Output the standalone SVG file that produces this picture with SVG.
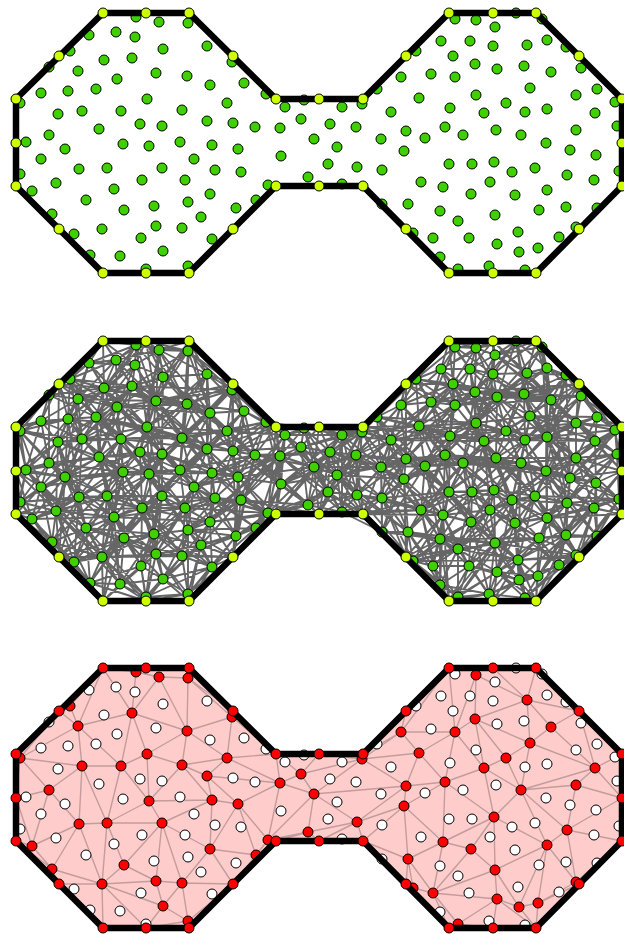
<svg xmlns="http://www.w3.org/2000/svg" xmlns:xlink="http://www.w3.org/1999/xlink" width="624" height="934" viewBox="0 0 624 934">
<style>
.out{fill:none;stroke:#000;stroke-width:6.5;stroke-linejoin:round}
.mesh{fill:none;stroke:#666;stroke-width:1.9;stroke-linejoin:round;stroke-linecap:round}
.tri{fill:none;stroke:#c39c9c;stroke-width:1.4}
</style>
<defs>
<polygon id="sh" points="103,13 189,13 276,99 363,99 449,13 536,13 622,99 622,186 536,273 449,273 363,186 276,186 189,273 103,273 16,186 16,99"/>
<g id="pr">
<circle cx="136" cy="17" r="5"/><circle cx="159" cy="22" r="5"/><circle cx="188" cy="23" r="5"/><circle cx="70" cy="51" r="5"/><circle cx="132" cy="58" r="5"/><circle cx="232" cy="62" r="5"/><circle cx="78" cy="71" r="5"/><circle cx="187" cy="76" r="5"/><circle cx="147" cy="99" r="5"/><circle cx="20" cy="103" r="5"/><circle cx="227" cy="103" r="5"/><circle cx="82" cy="111" r="5"/><circle cx="121" cy="111" r="5"/><circle cx="182" cy="110" r="5"/><circle cx="301" cy="119" r="5"/><circle cx="207" cy="121" r="5"/><circle cx="280" cy="128" r="5"/><circle cx="49" cy="135" r="5"/><circle cx="314" cy="139" r="5"/><circle cx="149" cy="146" r="5"/><circle cx="212" cy="145" r="5"/><circle cx="238" cy="149" r="5"/><circle cx="79" cy="169" r="5"/><circle cx="107" cy="168" r="5"/><circle cx="162" cy="168" r="5"/><circle cx="308" cy="177" r="5"/><circle cx="268" cy="185" r="5"/><circle cx="32" cy="191" r="5"/><circle cx="210" cy="194" r="5"/><circle cx="124" cy="210" r="5"/><circle cx="256" cy="200" r="5"/><circle cx="52" cy="214" r="5"/><circle cx="102" cy="229" r="5"/><circle cx="156" cy="226" r="5"/><circle cx="182" cy="228" r="5"/><circle cx="163" cy="251" r="5"/><circle cx="188" cy="266" r="5"/>
<circle cx="476" cy="20" r="5"/><circle cx="527" cy="45" r="5"/><circle cx="475" cy="64" r="5"/><circle cx="551" cy="72" r="5"/><circle cx="401" cy="77" r="5"/><circle cx="455" cy="77" r="5"/><circle cx="530" cy="88" r="5"/><circle cx="419" cy="98" r="5"/><circle cx="362" cy="104" r="5"/><circle cx="484" cy="113" r="5"/><circle cx="506" cy="103" r="5"/><circle cx="595" cy="113" r="5"/><circle cx="406" cy="131" r="5"/><circle cx="445" cy="127" r="5"/><circle cx="521" cy="135" r="5"/><circle cx="576" cy="130" r="5"/><circle cx="404" cy="151" r="5"/><circle cx="357" cy="167" r="5"/><circle cx="494" cy="162" r="5"/><circle cx="567" cy="175" r="5"/><circle cx="443" cy="187" r="5"/><circle cx="471" cy="194" r="5"/><circle cx="547" cy="190" r="5"/><circle cx="408" cy="204" r="5"/><circle cx="495" cy="215" r="5"/><circle cx="413" cy="233" r="5"/><circle cx="433" cy="238" r="5"/><circle cx="497" cy="244" r="5"/><circle cx="576" cy="227" r="5"/><circle cx="519" cy="252" r="5"/><circle cx="538" cy="248" r="5"/><circle cx="458" cy="269" r="5"/>
</g>
<g id="ph">
<circle cx="89" cy="35" r="5"/><circle cx="116" cy="32" r="5"/><circle cx="135" cy="37" r="5"/><circle cx="163" cy="49" r="5"/><circle cx="207" cy="46" r="5"/><circle cx="49" cy="67" r="5"/><circle cx="104" cy="60" r="5"/><circle cx="156" cy="73" r="5"/><circle cx="117" cy="79" r="5"/><circle cx="210" cy="85" r="5"/><circle cx="244" cy="83" r="5"/><circle cx="41" cy="93" r="5"/><circle cx="68" cy="91" r="5"/><circle cx="96" cy="89" r="5"/><circle cx="266" cy="94" r="5"/><circle cx="285" cy="107" r="5"/><circle cx="304" cy="100" r="5"/><circle cx="58" cy="114" r="5"/><circle cx="140" cy="124" r="5"/><circle cx="162" cy="126" r="5"/><circle cx="233" cy="123" r="5"/><circle cx="255" cy="127" r="5"/><circle cx="99" cy="129" r="5"/><circle cx="26" cy="142" r="5"/><circle cx="65" cy="149" r="5"/><circle cx="123" cy="144" r="5"/><circle cx="180" cy="142" r="5"/><circle cx="281" cy="156" r="5"/><circle cx="41" cy="159" r="5"/><circle cx="194" cy="159" r="5"/><circle cx="215" cy="170" r="5"/><circle cx="241" cy="172" r="5"/><circle cx="20" cy="174" r="5"/><circle cx="142" cy="180" r="5"/><circle cx="185" cy="180" r="5"/><circle cx="56" cy="183" r="5"/><circle cx="114" cy="189" r="5"/><circle cx="86" cy="200" r="5"/><circle cx="188" cy="202" r="5"/><circle cx="154" cy="206" r="5"/><circle cx="236" cy="208" r="5"/><circle cx="201" cy="217" r="5"/><circle cx="74" cy="234" r="5"/><circle cx="141" cy="238" r="5"/><circle cx="212" cy="239" r="5"/><circle cx="90" cy="255" r="5"/><circle cx="120" cy="256" r="5"/><circle cx="146" cy="269" r="5"/>
<circle cx="455" cy="19" r="5"/><circle cx="495" cy="27" r="5"/><circle cx="516" cy="13" r="5"/><circle cx="542" cy="19" r="5"/><circle cx="441" cy="41" r="5"/><circle cx="470" cy="41" r="5"/><circle cx="493" cy="46" r="5"/><circle cx="547" cy="40" r="5"/><circle cx="566" cy="47" r="5"/><circle cx="416" cy="51" r="5"/><circle cx="453" cy="56" r="5"/><circle cx="497" cy="69" r="5"/><circle cx="524" cy="66" r="5"/><circle cx="581" cy="68" r="5"/><circle cx="431" cy="74" r="5"/><circle cx="597" cy="89" r="5"/><circle cx="377" cy="89" r="5"/><circle cx="476" cy="95" r="5"/><circle cx="576" cy="95" r="5"/><circle cx="342" cy="107" r="5"/><circle cx="391" cy="112" r="5"/><circle cx="450" cy="108" r="5"/><circle cx="525" cy="112" r="5"/><circle cx="547" cy="109" r="5"/><circle cx="615" cy="102" r="5"/><circle cx="330" cy="124" r="5"/><circle cx="356" cy="127" r="5"/><circle cx="425" cy="138" r="5"/><circle cx="463" cy="135" r="5"/><circle cx="496" cy="130" r="5"/><circle cx="617" cy="126" r="5"/><circle cx="337" cy="147" r="5"/><circle cx="381" cy="139" r="5"/><circle cx="546" cy="143" r="5"/><circle cx="570" cy="150" r="5"/><circle cx="596" cy="155" r="5"/><circle cx="328" cy="164" r="5"/><circle cx="382" cy="170" r="5"/><circle cx="449" cy="164" r="5"/><circle cx="472" cy="164" r="5"/><circle cx="512" cy="172" r="5"/><circle cx="535" cy="168" r="5"/><circle cx="594" cy="180" r="5"/><circle cx="619" cy="171" r="5"/><circle cx="342" cy="184" r="5"/><circle cx="421" cy="182" r="5"/><circle cx="490" cy="182" r="5"/><circle cx="515" cy="195" r="5"/><circle cx="382" cy="204" r="5"/><circle cx="440" cy="211" r="5"/><circle cx="539" cy="210" r="5"/><circle cx="566" cy="207" r="5"/><circle cx="597" cy="208" r="5"/><circle cx="458" cy="221" r="5"/><circle cx="518" cy="232" r="5"/><circle cx="469" cy="238" r="5"/><circle cx="559" cy="237" r="5"/><circle cx="440" cy="257" r="5"/><circle cx="489" cy="266" r="5"/><circle cx="525" cy="270" r="5"/>
</g>
<g id="pb">
<circle cx="103" cy="13" r="5"/><circle cx="146" cy="13" r="5"/><circle cx="189" cy="13" r="5"/><circle cx="233" cy="56" r="5"/><circle cx="276" cy="99" r="5"/><circle cx="319" cy="99" r="5"/><circle cx="363" cy="99" r="5"/><circle cx="406" cy="56" r="5"/><circle cx="449" cy="13" r="5"/><circle cx="493" cy="13" r="5"/><circle cx="536" cy="13" r="5"/><circle cx="579" cy="56" r="5"/><circle cx="622" cy="99" r="5"/><circle cx="622" cy="143" r="5"/><circle cx="622" cy="186" r="5"/><circle cx="579" cy="229" r="5"/><circle cx="536" cy="273" r="5"/><circle cx="493" cy="273" r="5"/><circle cx="449" cy="273" r="5"/><circle cx="406" cy="229" r="5"/><circle cx="363" cy="186" r="5"/><circle cx="319" cy="186" r="5"/><circle cx="276" cy="186" r="5"/><circle cx="233" cy="229" r="5"/><circle cx="189" cy="273" r="5"/><circle cx="146" cy="273" r="5"/><circle cx="103" cy="273" r="5"/><circle cx="59" cy="229" r="5"/><circle cx="16" cy="186" r="5"/><circle cx="16" cy="143" r="5"/><circle cx="16" cy="99" r="5"/><circle cx="59" cy="56" r="5"/>
</g>
</defs>
<rect width="624" height="934" fill="#fff"/>

<g id="panel-points">
<g id="points-interior" fill="#40d000" stroke="#000" stroke-width="1"><use href="#pr"/><use href="#ph"/></g>
<use href="#sh" class="out"/>
<g id="points-boundary" fill="#ccff00" stroke="#000" stroke-width="1"><use href="#pb"/></g>
</g>

<g id="panel-graph" transform="translate(0,328)">
<g id="connectors">
<path class="mesh" d="M89 35L103 13L116 32L135 37L136 17L146 13L159 22L163 49L188 23L189 13L207 46M89 35L116 32L136 17L159 22L188 23L207 46M103 13L135 37L146 13L163 49L189 13M89 35L135 37L159 22L189 13M103 13L136 17L163 49L207 46M116 32L146 13L188 23
M441 41L449 13L455 19L470 41L476 20L493 13L493 46L495 27L516 13L527 45L536 13L542 19L547 40L566 47M441 41L455 19L476 20L493 46L516 13L536 13L547 40M449 13L470 41L493 13L495 27L527 45L542 19L566 47M441 41L470 41L493 46L527 45L547 40M449 13L476 20L495 27L536 13L566 47M455 19L493 13L516 13L542 19
M49 67L59 56L70 51L78 71L104 60L117 79L132 58L156 73L187 76L210 85L232 62L233 56L244 83M49 67L70 51L104 60L132 58L187 76L232 62L244 83M59 56L78 71L117 79L156 73L210 85L233 56M49 67L78 71L132 58L210 85L244 83M59 56L104 60L156 73L232 62M70 51L117 79L187 76L233 56
M401 77L406 56L416 51L431 74L453 56L455 77L475 64L497 69L524 66L551 72L579 56L581 68M401 77L416 51L453 56L475 64L524 66L579 56M406 56L431 74L455 77L497 69L551 72L581 68M401 77L431 74L475 64L551 72M406 56L453 56L497 69L579 56M416 51L455 77L524 66L581 68
M16 99L20 103L41 93L58 114L68 91L82 111L96 89L121 111L147 99L182 110L207 121L227 103L233 123L266 94L276 99L285 107L301 119L304 100L319 99L342 107L362 104L363 99L377 89L391 112L419 98L450 108L476 95L484 113L506 103L525 112L530 88L547 109L576 95L595 113L597 89L615 102L622 99M16 99L41 93L68 91L96 89L147 99L207 121L233 123L276 99L301 119L319 99L362 104L377 89L419 98L476 95L506 103L530 88L576 95L597 89L622 99M20 103L58 114L82 111L121 111L182 110L227 103L266 94L285 107L304 100L342 107L363 99L391 112L450 108L484 113L525 112L547 109L595 113L615 102M16 99L58 114L96 89L182 110L233 123L285 107L319 99L363 99L419 98L484 113L530 88L595 113L622 99M20 103L68 91L121 111L207 121L266 94L301 119L342 107L377 89L450 108L506 103L547 109L597 89M41 93L82 111L147 99L227 103L276 99L304 100L362 104L391 112L476 95L525 112L576 95L615 102
M16 143L26 142L41 159L49 135L65 149L99 129L123 144L140 124L149 146L162 126L180 142L194 159L212 145L238 149L255 127L280 128L281 156L314 139L330 124L337 147L356 127L381 139L404 151L406 131L425 138L445 127L463 135L496 130L521 135L546 143L570 150L576 130L596 155L617 126L622 143M16 143L41 159L65 149L123 144L149 146L180 142L212 145L255 127L281 156L330 124L356 127L404 151L425 138L463 135L521 135L570 150L596 155L622 143M26 142L49 135L99 129L140 124L162 126L194 159L238 149L280 128L314 139L337 147L381 139L406 131L445 127L496 130L546 143L576 130L617 126M16 143L49 135L123 144L162 126L212 145L280 128L330 124L381 139L425 138L496 130L570 150L617 126M26 142L65 149L140 124L180 142L238 149L281 156L337 147L404 151L445 127L521 135L576 130L622 143M41 159L99 129L149 146L194 159L255 127L314 139L356 127L406 131L463 135L546 143L596 155
M16 186L20 174L32 191L56 183L79 169L107 168L114 189L142 180L162 168L185 180L210 194L215 170L241 172L268 185L276 186L308 177L319 186L328 164L342 184L357 167L363 186L382 170L421 182L443 187L449 164L471 194L472 164L490 182L494 162L512 172L515 195L535 168L547 190L567 175L594 180L619 171L622 186M16 186L32 191L79 169L114 189L162 168L210 194L241 172L276 186L319 186L342 184L363 186L421 182L449 164L472 164L494 162L515 195L547 190L594 180L622 186M20 174L56 183L107 168L142 180L185 180L215 170L268 185L308 177L328 164L357 167L382 170L443 187L471 194L490 182L512 172L535 168L567 175L619 171M16 186L56 183L114 189L185 180L241 172L308 177L342 184L382 170L449 164L490 182L515 195L567 175L622 186M20 174L79 169L142 180L210 194L268 185L319 186L357 167L421 182L471 194L494 162L535 168L594 180M32 191L107 168L162 168L215 170L276 186L328 164L363 186L443 187L472 164L512 172L547 190L619 171
M52 214L59 229L74 234L86 200L102 229L124 210L154 206L156 226L182 228L188 202L201 217L233 229L236 208L256 200M52 214L74 234L102 229L154 206L182 228L201 217L236 208M59 229L86 200L124 210L156 226L188 202L233 229L256 200M52 214L86 200L154 206L188 202L236 208M59 229L102 229L156 226L201 217L256 200M74 234L124 210L182 228L233 229
M382 204L406 229L408 204L413 233L440 211L458 221L495 215L518 232L539 210L566 207L576 227L579 229L597 208M382 204L408 204L440 211L495 215L539 210L576 227L597 208M406 229L413 233L458 221L518 232L566 207L579 229M382 204L413 233L495 215L566 207L597 208M406 229L440 211L518 232L576 227M408 204L458 221L539 210L579 229
M90 255L103 273L120 256L141 238L146 273L146 269L163 251L188 266L189 273L212 239M90 255L120 256L146 273L163 251L189 273M103 273L141 238L146 269L188 266L212 239M90 255L141 238L163 251L212 239M103 273L146 273L188 266M120 256L146 269L189 273
M433 238L440 257L449 273L458 269L469 238L489 266L493 273L497 244L519 252L525 270L536 273L538 248L559 237M433 238L449 273L469 238L493 273L519 252L536 273L559 237M440 257L458 269L489 266L497 244L525 270L538 248M433 238L458 269L493 273L525 270L559 237M440 257L469 238L497 244L536 273M449 273L489 266L519 252L538 248
M49 67L41 93L16 99L20 103L49 135L26 142L16 143L41 159L20 174L16 186L32 191L52 214M49 67L16 99L49 135L16 143L20 174L32 191M41 93L20 103L26 142L41 159L16 186L52 214M49 67L20 103L16 143L16 186M41 93L49 135L41 159L32 191M16 99L26 142L20 174L52 214
M89 35L70 51L59 56L78 71L68 91L82 111L58 114L65 149L79 169L56 183L86 200L59 229L74 234L90 255M89 35L59 56L68 91L58 114L79 169L86 200L74 234M70 51L78 71L82 111L65 149L56 183L59 229L90 255M89 35L78 71L58 114L56 183L74 234M70 51L68 91L65 149L86 200L90 255M59 56L82 111L79 169L59 229
M103 13L116 32L135 37L132 58L104 60L117 79L96 89L121 111L99 129L123 144L107 168L114 189L124 210L102 229L120 256L103 273M103 13L135 37L104 60L96 89L99 129L107 168L124 210L120 256M116 32L132 58L117 79L121 111L123 144L114 189L102 229L103 273M103 13L132 58L96 89L123 144L124 210L103 273M116 32L104 60L121 111L107 168L102 229M135 37L117 79L99 129L114 189L120 256
M146 13L136 17L159 22L163 49L156 73L147 99L140 124L162 126L149 146L162 168L142 180L154 206L156 226L141 238L163 251L146 269L146 273M146 13L159 22L156 73L140 124L149 146L142 180L156 226L163 251L146 273M136 17L163 49L147 99L162 126L162 168L154 206L141 238L146 269M146 13L163 49L140 124L162 168L156 226L146 269M136 17L156 73L162 126L142 180L141 238L146 273M159 22L147 99L149 146L154 206L163 251
M189 13L188 23L207 46L187 76L210 85L182 110L207 121L180 142L212 145L194 159L215 170L185 180L210 194L188 202L201 217L182 228L212 239L188 266L189 273M189 13L207 46L210 85L207 121L212 145L215 170L210 194L201 217L212 239L189 273M188 23L187 76L182 110L180 142L194 159L185 180L188 202L182 228L188 266M189 13L187 76L207 121L194 159L210 194L182 228L189 273M188 23L210 85L180 142L215 170L188 202L212 239M207 46L182 110L212 145L185 180L201 217L188 266
M233 56L232 62L244 83L227 103L233 123L255 127L238 149L241 172L236 208L233 229M233 56L244 83L233 123L238 149L236 208M232 62L227 103L255 127L241 172L233 229M233 56L227 103L238 149L233 229M232 62L233 123L241 172M244 83L255 127L236 208
M266 94L276 99L285 107L280 128L281 156L268 185L276 186L256 200M266 94L285 107L281 156L276 186M276 99L280 128L268 185L256 200M266 94L280 128L276 186M276 99L281 156L256 200M285 107L268 185
M319 99L304 100L301 119L330 124L314 139L328 164L308 177L319 186M319 99L301 119L314 139L308 177M304 100L330 124L328 164L319 186M319 99L330 124L308 177M304 100L314 139L319 186M301 119L328 164
M363 99L362 104L342 107L356 127L337 147L357 167L342 184L363 186M363 99L342 107L337 147L342 184M362 104L356 127L357 167L363 186M363 99L356 127L342 184M362 104L337 147L363 186M342 107L357 167
M406 56L401 77L377 89L391 112L406 131L381 139L404 151L382 170L382 204L408 204L406 229L413 233M406 56L377 89L406 131L404 151L382 204L406 229M401 77L391 112L381 139L382 170L408 204L413 233M406 56L391 112L404 151L408 204M401 77L406 131L382 170L406 229M377 89L381 139L382 204L413 233
M449 13L455 19L441 41L416 51L453 56L431 74L455 77L419 98L450 108L445 127L425 138L449 164L421 182L443 187L440 211L433 238L440 257L449 273M449 13L441 41L453 56L455 77L450 108L425 138L421 182L440 211L440 257M455 19L416 51L431 74L419 98L445 127L449 164L443 187L433 238L449 273M449 13L416 51L455 77L445 127L421 182L433 238M455 19L453 56L419 98L425 138L443 187L440 257M441 41L431 74L450 108L449 164L440 211L449 273
M493 13L476 20L495 27L470 41L493 46L475 64L476 95L484 113L463 135L494 162L472 164L490 182L471 194L495 215L458 221L469 238L489 266L458 269L493 273M493 13L495 27L493 46L476 95L463 135L472 164L471 194L458 221L489 266L493 273M476 20L470 41L475 64L484 113L494 162L490 182L495 215L469 238L458 269M493 13L470 41L476 95L494 162L471 194L469 238L493 273M476 20L493 46L484 113L472 164L495 215L489 266M495 27L475 64L463 135L490 182L458 221L458 269
M516 13L527 45L524 66L497 69L530 88L506 103L525 112L496 130L521 135L535 168L512 172L515 195L518 232L497 244L519 252L525 270M516 13L524 66L530 88L525 112L521 135L512 172L518 232L519 252M527 45L497 69L506 103L496 130L535 168L515 195L497 244L525 270M516 13L497 69L525 112L535 168L518 232L525 270M527 45L530 88L496 130L512 172L497 244M524 66L506 103L521 135L515 195L519 252
M536 13L542 19L547 40L566 47L551 72L547 109L546 143L570 150L567 175L547 190L566 207L539 210L559 237L538 248L536 273M536 13L547 40L551 72L546 143L567 175L566 207L559 237L536 273M542 19L566 47L547 109L570 150L547 190L539 210L538 248M536 13L566 47L546 143L547 190L559 237M542 19L551 72L570 150L566 207L538 248M547 40L547 109L567 175L539 210L536 273
M579 56L581 68L597 89L576 95L622 99L615 102L595 113L617 126L576 130L622 143L596 155L619 171L594 180L622 186L597 208L576 227L579 229M579 56L597 89L622 99L595 113L576 130L596 155L594 180L597 208L579 229M581 68L576 95L615 102L617 126L622 143L619 171L622 186L576 227M579 56L576 95L595 113L622 143L594 180L576 227M581 68L622 99L617 126L596 155L622 186L579 229M597 89L615 102L576 130L619 171L597 208
M89 35L136 17L188 23M116 32L159 22L207 46M135 37L163 49
M441 41L476 20L516 13L547 40M449 13L493 13L527 45L566 47M455 19L493 46L536 13M470 41L495 27L542 19
M49 67L104 60L187 76L244 83M59 56L117 79L210 85M70 51L132 58L232 62M78 71L156 73L233 56
M401 77L453 56L524 66M406 56L455 77L551 72M416 51L475 64L579 56M431 74L497 69L581 68
M16 99L68 91L147 99L233 123L301 119L362 104L419 98L506 103L576 95L622 99M20 103L82 111L182 110L266 94L304 100L363 99L450 108L525 112L595 113M41 93L96 89L207 121L276 99L319 99M377 89L476 95L530 88L597 89M58 114L121 111L227 103L285 107L342 107L391 112L484 113L547 109L615 102
M16 143L65 149L149 146L212 145L281 156L356 127L425 138L521 135L596 155M26 142L99 129L162 126L238 149L314 139L381 139L445 127L546 143L617 126M41 159L123 144L180 142L255 127L330 124L404 151L463 135L570 150L622 143M49 135L140 124L194 159L280 128L337 147L406 131L496 130L576 130
M16 186L79 169L162 168L241 172L319 186L363 186L449 164L494 162L547 190L622 186M20 174L107 168L185 180L268 185L328 164L382 170L471 194L512 172L567 175M32 191L114 189L210 194L276 186L342 184L421 182L472 164L515 195L594 180M56 183L142 180L215 170L308 177L357 167L443 187L490 182L535 168L619 171
M52 214L102 229L182 228L236 208M59 229L124 210L188 202L256 200M74 234L154 206L201 217M86 200L156 226L233 229
M382 204L440 211L539 210L597 208M406 229L458 221L566 207M408 204L495 215L576 227M413 233L518 232L579 229
M90 255L146 273M103 273L146 269L212 239M120 256L163 251M141 238L188 266
M433 238L469 238L519 252L559 237M440 257L489 266L525 270M458 269L497 244L538 248
M49 67L49 135L20 174M41 93L26 142L16 186M16 143L32 191M20 103L41 159L52 214
M89 35L68 91L79 169L74 234M70 51L82 111L56 183L90 255M59 56L58 114L86 200M78 71L65 149L59 229
M103 13L104 60L99 129L124 210M116 32L117 79L123 144L102 229M135 37L96 89L107 168L120 256M132 58L121 111L114 189L103 273
M146 13L156 73L149 146L156 226L146 273M136 17L147 99L162 168L141 238M159 22L140 124L142 180L163 251M163 49L162 126L154 206L146 269
M189 13L210 85L212 145L210 194L212 239M188 23L182 110L194 159L188 202L188 266M207 46L207 121L215 170L201 217L189 273M187 76L180 142L185 180L182 228
M233 56L233 123L236 208M232 62L255 127L233 229M244 83L238 149M227 103L241 172
M266 94L281 156M276 99L268 185M285 107L276 186M280 128L256 200
M319 99L314 139M304 100L328 164M301 119L308 177M330 124L319 186
M363 99L337 147M362 104L357 167M342 107L342 184M356 127L363 186
M406 56L406 131L382 204M401 77L381 139L408 204M377 89L404 151L406 229M391 112L382 170L413 233
M449 13L453 56L450 108L421 182L440 257M455 19L431 74L445 127L443 187L449 273M441 41L455 77L425 138L440 211M416 51L419 98L449 164L433 238
M493 13L493 46L463 135L471 194L489 266M476 20L475 64L494 162L495 215L458 269M495 27L476 95L472 164L458 221L493 273M470 41L484 113L490 182L469 238
M516 13L530 88L521 135L518 232M527 45L506 103L535 168L497 244M524 66L525 112L512 172L519 252M497 69L496 130L515 195L525 270
M536 13L551 72L567 175L559 237M542 19L547 109L547 190L538 248M547 40L546 143L566 207L536 273M566 47L570 150L539 210
M579 56L622 99L576 130L594 180L579 229M581 68L615 102L622 143L622 186M597 89L595 113L596 155L597 208M576 95L617 126L619 171L576 227
M20 174L16 186L32 191L52 214L59 229L74 234L90 255L103 273M20 174L32 191L59 229L90 255M16 186L52 214L74 234L103 273M20 174L52 214L90 255M16 186L59 229L103 273M32 191L74 234
M16 143L26 142L41 159L56 183L86 200L102 229L120 256L146 269L146 273M16 143L41 159L86 200L120 256L146 273M26 142L56 183L102 229L146 269M16 143L56 183L120 256M26 142L86 200L146 269M41 159L102 229L146 273
M16 99L20 103L49 135L65 149L79 169L107 168L114 189L124 210L141 238L156 226L163 251L188 266L189 273M16 99L49 135L79 169L114 189L141 238L163 251L189 273M20 103L65 149L107 168L124 210L156 226L188 266M16 99L65 149L114 189L156 226L189 273M20 103L79 169L124 210L163 251M49 135L107 168L141 238L188 266
M41 93L68 91L58 114L82 111L99 129L123 144L142 180L154 206L182 228L212 239M41 93L58 114L99 129L142 180L182 228M68 91L82 111L123 144L154 206L212 239M41 93L82 111L142 180L212 239M68 91L99 129L154 206M58 114L123 144L182 228
M59 56L49 67L70 51L78 71L96 89L121 111L140 124L149 146L162 168L185 180L188 202L210 194L201 217L233 229M59 56L70 51L96 89L140 124L162 168L188 202L201 217M49 67L78 71L121 111L149 146L185 180L210 194L233 229M59 56L78 71L140 124L185 180L201 217M49 67L96 89L149 146L188 202L233 229M70 51L121 111L162 168L210 194
M89 35L104 60L117 79L147 99L162 126L180 142L194 159L215 170L236 208L256 200M89 35L117 79L162 126L194 159L236 208M104 60L147 99L180 142L215 170L256 200M89 35L147 99L194 159L256 200M104 60L162 126L215 170M117 79L180 142L236 208
M103 13L116 32L135 37L132 58L156 73L182 110L207 121L212 145L238 149L241 172L268 185L276 186M103 13L135 37L156 73L207 121L238 149L268 185M116 32L132 58L182 110L212 145L241 172L276 186M103 13L132 58L207 121L241 172M116 32L156 73L212 145L268 185M135 37L182 110L238 149L276 186
M136 17L146 13L159 22L163 49L187 76L210 85L227 103L233 123L255 127L281 156L308 177L319 186M136 17L159 22L187 76L227 103L255 127L308 177M146 13L163 49L210 85L233 123L281 156L319 186M136 17L163 49L227 103L281 156M146 13L187 76L233 123L308 177M159 22L210 85L255 127L319 186
M189 13L188 23L207 46L233 56L232 62L244 83L266 94L276 99L285 107L280 128L314 139L328 164L342 184L363 186L382 204L406 229L449 273M189 13L207 46L232 62L266 94L285 107L314 139L342 184L382 204L449 273M188 23L233 56L244 83L276 99L280 128L328 164L363 186L406 229M189 13L233 56L266 94L280 128L342 184M188 23L232 62L276 99L314 139L363 186M207 46L244 83L285 107L328 164L382 204
M304 100L301 119L330 124L337 147L357 167L382 170L408 204L413 233L433 238L440 257L458 269M304 100L330 124L357 167L408 204L433 238L458 269M301 119L337 147L382 170L413 233L440 257M304 100L337 147L408 204L440 257M301 119L357 167L413 233L458 269M330 124L382 170L433 238
M319 99L342 107L362 104L356 127L381 139L404 151L421 182L443 187L440 211L458 221L469 238L497 244L489 266L493 273L525 270M319 99L362 104L381 139L421 182L440 211L469 238L489 266L525 270M342 107L356 127L404 151L443 187L458 221L497 244L493 273M319 99L356 127L421 182L458 221L489 266M342 107L381 139L443 187L469 238L493 273M362 104L404 151L440 211L497 244L525 270
M363 99L377 89L391 112L406 131L425 138L449 164L471 194L495 215L518 232L519 252L538 248L536 273M363 99L391 112L425 138L471 194L518 232L538 248M377 89L406 131L449 164L495 215L519 252L536 273M363 99L406 131L471 194L519 252M377 89L425 138L495 215L538 248M391 112L449 164L518 232L536 273
M401 77L419 98L445 127L463 135L472 164L494 162L490 182L515 195L539 210L559 237M401 77L445 127L472 164L490 182L539 210M419 98L463 135L494 162L515 195L559 237M401 77L463 135L490 182L559 237M419 98L472 164L515 195M445 127L494 162L539 210
M406 56L416 51L431 74L455 77L450 108L484 113L496 130L512 172L535 168L547 190L566 207L576 227L579 229M406 56L431 74L450 108L496 130L535 168L566 207L579 229M416 51L455 77L484 113L512 172L547 190L576 227M406 56L455 77L496 130L547 190L579 229M416 51L450 108L512 172L566 207M431 74L484 113L535 168L576 227
M441 41L453 56L475 64L476 95L506 103L525 112L521 135L546 143L567 175L594 180L597 208M441 41L475 64L506 103L521 135L567 175L597 208M453 56L476 95L525 112L546 143L594 180M441 41L476 95L521 135L594 180M453 56L506 103L546 143L597 208M475 64L525 112L567 175
M449 13L455 19L476 20L470 41L493 46L497 69L524 66L530 88L547 109L576 130L570 150L596 155L619 171L622 186M449 13L476 20L493 46L524 66L547 109L570 150L619 171M455 19L470 41L497 69L530 88L576 130L596 155L622 186M449 13L470 41L524 66L576 130L619 171M455 19L493 46L530 88L570 150L622 186M476 20L497 69L547 109L596 155
M493 13L495 27L527 45L551 72L576 95L595 113L617 126L622 143M493 13L527 45L576 95L617 126M495 27L551 72L595 113L622 143M493 13L551 72L617 126M495 27L576 95L622 143M527 45L595 113
M516 13L536 13L542 19L547 40L566 47L579 56L581 68L597 89L615 102L622 99M516 13L542 19L566 47L581 68L615 102M536 13L547 40L579 56L597 89L622 99M516 13L547 40L581 68L622 99M536 13L566 47L597 89M542 19L579 56L615 102
M16 99L20 103L41 93L49 67L59 56L78 71L70 51L89 35L116 32L103 13M16 99L41 93L59 56L70 51L116 32M20 103L49 67L78 71L89 35L103 13M16 99L49 67L70 51L103 13M20 103L59 56L89 35M41 93L78 71L116 32
M16 143L26 142L49 135L58 114L68 91L96 89L104 60L135 37L136 17L146 13L159 22M16 143L49 135L68 91L104 60L136 17L159 22M26 142L58 114L96 89L135 37L146 13M16 143L58 114L104 60L146 13M26 142L68 91L135 37L159 22M49 135L96 89L136 17
M16 186L32 191L20 174L41 159L65 149L99 129L82 111L117 79L132 58L156 73L163 49L188 23L189 13M16 186L20 174L65 149L82 111L132 58L163 49L189 13M32 191L41 159L99 129L117 79L156 73L188 23M16 186L41 159L82 111L156 73L189 13M32 191L65 149L117 79L163 49M20 174L99 129L132 58L188 23
M52 214L56 183L79 169L123 144L121 111L140 124L147 99L187 76L207 46M52 214L79 169L121 111L147 99L207 46M56 183L123 144L140 124L187 76M52 214L123 144L147 99M56 183L121 111L187 76M79 169L140 124L207 46
M59 229L74 234L86 200L114 189L107 168L149 146L162 126L182 110L210 85L232 62L233 56M59 229L86 200L107 168L162 126L210 85L233 56M74 234L114 189L149 146L182 110L232 62M59 229L114 189L162 126L232 62M74 234L107 168L182 110L233 56M86 200L149 146L210 85
M90 255L102 229L124 210L142 180L162 168L180 142L207 121L227 103L244 83M90 255L124 210L162 168L207 121L244 83M102 229L142 180L180 142L227 103M90 255L142 180L207 121M102 229L162 168L227 103M124 210L180 142L244 83
M103 273L120 256L141 238L156 226L154 206L185 180L194 159L215 170L212 145L238 149L233 123L255 127L266 94L276 99M103 273L141 238L154 206L194 159L212 145L233 123L266 94M120 256L156 226L185 180L215 170L238 149L255 127L276 99M103 273L156 226L194 159L238 149L266 94M120 256L154 206L215 170L233 123L276 99M141 238L185 180L212 145L255 127
M146 273L146 269L163 251L182 228L201 217L188 202L210 194L241 172L280 128L285 107L301 119L304 100L319 99M146 273L163 251L201 217L210 194L280 128L301 119L319 99M146 269L182 228L188 202L241 172L285 107L304 100M146 273L182 228L210 194L285 107L319 99M146 269L201 217L241 172L301 119M163 251L188 202L280 128L304 100
M189 273L188 266L212 239L233 229L236 208L256 200L268 185L276 186L281 156L314 139L330 124L342 107L362 104L363 99L377 89L406 56L416 51L449 13M189 273L212 239L236 208L268 185L281 156L330 124L362 104L377 89L416 51M188 266L233 229L256 200L276 186L314 139L342 107L363 99L406 56L449 13M189 273L233 229L268 185L314 139L362 104L406 56M188 266L236 208L276 186L330 124L363 99L416 51M212 239L256 200L281 156L342 107L377 89L449 13
M308 177L319 186L328 164L337 147L356 127L391 112L401 77L431 74L453 56L441 41L455 19L476 20L493 13M308 177L328 164L356 127L401 77L453 56L455 19L493 13M319 186L337 147L391 112L431 74L441 41L476 20M308 177L337 147L401 77L441 41L493 13M319 186L356 127L431 74L455 19M328 164L391 112L453 56L476 20
M342 184L363 186L357 167L381 139L406 131L419 98L455 77L475 64L470 41L493 46L495 27L516 13L536 13M342 184L357 167L406 131L455 77L470 41L495 27L536 13M363 186L381 139L419 98L475 64L493 46L516 13M342 184L381 139L455 77L493 46L536 13M363 186L406 131L475 64L516 13M357 167L419 98L470 41
M382 204L382 170L404 151L425 138L445 127L450 108L476 95L497 69L527 45L547 40L542 19M382 204L404 151L445 127L476 95L527 45L542 19M382 170L425 138L450 108L497 69L547 40M382 204L425 138L476 95L547 40M382 170L445 127L497 69L542 19M404 151L450 108L527 45
M408 204L421 182L449 164L463 135L496 130L484 113L506 103L530 88L524 66L551 72L566 47M408 204L449 164L496 130L506 103L524 66L566 47M421 182L463 135L484 113L530 88L551 72M408 204L463 135L506 103L551 72M421 182L496 130L530 88L566 47M449 164L484 113L524 66
M406 229L413 233L440 211L443 187L471 194L472 164L494 162L521 135L525 112L547 109L581 68L579 56M406 229L440 211L471 194L494 162L525 112L581 68M413 233L443 187L472 164L521 135L547 109L579 56M406 229L443 187L494 162L547 109M413 233L471 194L521 135L581 68M440 211L472 164L525 112L579 56
M440 257L433 238L469 238L458 221L490 182L512 172L535 168L546 143L576 130L576 95L595 113L597 89M440 257L469 238L490 182L535 168L576 130L595 113M433 238L458 221L512 172L546 143L576 95L597 89M440 257L458 221L535 168L576 95M433 238L490 182L546 143L595 113M469 238L512 172L576 130L597 89
M449 273L458 269L497 244L495 215L515 195L539 210L547 190L567 175L570 150L617 126L615 102L622 99M449 273L497 244L515 195L547 190L570 150L615 102M458 269L495 215L539 210L567 175L617 126L622 99M449 273L495 215L547 190L617 126M458 269L515 195L567 175L615 102M497 244L539 210L570 150L622 99
M493 273L489 266L519 252L518 232L538 248L566 207L594 180L596 155L622 143M493 273L519 252L538 248L594 180L622 143M489 266L518 232L566 207L596 155M493 273L518 232L594 180M489 266L538 248L596 155M519 252L566 207L622 143
M525 270L536 273L559 237L576 227L579 229L597 208L622 186L619 171M525 270L559 237L579 229L622 186M536 273L576 227L597 208L619 171M525 270L576 227L622 186M536 273L579 229L619 171M559 237L597 208"/>
</g>
<g id="graph-nodes" fill="#40d000" stroke="#000" stroke-width="1"><use href="#pr"/><use href="#ph"/></g>
<use href="#sh" class="out"/>
<g id="graph-boundary" fill="#ccff00" stroke="#000" stroke-width="1"><use href="#pb"/></g>
</g>

<g id="panel-mesh" transform="translate(0,655)">
<use href="#sh" fill="#ffcccc"/>
<g id="triangulation">
<path class="tri" d="M103 13L136 17M136 17L159 22M159 22L188 23M103 13L132 58M136 17L132 58M159 22L132 58M159 22L187 76M188 23L187 76M188 23L232 62M188 23L233 56M232 62L187 76M232 62L227 103M232 62L276 99M187 76L227 103M132 58L187 76M132 58L78 71M132 58L147 99M132 58L121 111M103 13L70 51M103 13L78 71M70 51L78 71M70 51L59 56M59 56L78 71M78 71L20 103M59 56L20 103M78 71L121 111M78 71L82 111M20 103L82 111M20 103L49 135M82 111L49 135M49 135L16 143M20 103L16 143M82 111L121 111M147 99L121 111M147 99L187 76M147 99L182 110M187 76L182 110M227 103L182 110M182 110L207 121M227 103L207 121M227 103L276 99M227 103L280 128M207 121L280 128M280 128L276 99M280 128L301 119M301 119L276 99M301 119L319 99M301 119L314 139M280 128L314 139M301 119L362 104M314 139L362 104M319 99L362 104M121 111L149 146M147 99L149 146M182 110L149 146M182 110L212 145M207 121L212 145M149 146L212 145M207 121L238 149M280 128L238 149M212 145L238 149M82 111L107 168M121 111L107 168M82 111L79 169M49 135L79 169M79 169L107 168M149 146L107 168M149 146L162 168M107 168L162 168M212 145L162 168M49 135L32 191M32 191L16 143M32 191L16 186M79 169L32 191M32 191L52 214M52 214L16 186M52 214L59 229M79 169L52 214M79 169L102 229M107 168L102 229M52 214L102 229M102 229L59 229M102 229L103 273M107 168L124 210M124 210L102 229M162 168L124 210M124 210L156 226M162 168L156 226M102 229L156 226M102 229L163 251M156 226L163 251M156 226L182 228M162 168L182 228M182 228L163 251M163 251L188 266M182 228L188 266M163 251L146 273M102 229L146 273M188 266L146 273M188 266L233 229M182 228L233 229M162 168L210 194M212 145L210 194M210 194L182 228M210 194L233 229M238 149L210 194M210 194L256 200M238 149L256 200M256 200L233 229M256 200L276 186M238 149L268 185M268 185L256 200M280 128L268 185M314 139L268 185M314 139L308 177M308 177L268 185M308 177L276 186M308 177L319 186
M314 139L357 167M308 177L357 167M357 167L319 186M357 167L363 186M314 139L406 131M362 104L406 131M406 131L357 167M406 131L404 151M404 151L357 167M404 151L363 186M404 151L408 204M408 204L363 186M408 204L406 229
M363 99L401 77M406 56L401 77M401 77L362 104M401 77L419 98M419 98L362 104M419 98L406 131M449 13L401 77M449 13L455 77M401 77L455 77M455 77L419 98M476 20L455 77M476 20L475 64M476 20L527 45M527 45L493 13M527 45L536 13M527 45L579 56M527 45L475 64M475 64L455 77M527 45L551 72M551 72L579 56M527 45L530 88M475 64L530 88M551 72L530 88M475 64L484 113M455 77L484 113M475 64L506 103M530 88L506 103M484 113L506 103M551 72L595 113M579 56L595 113M622 99L595 113M530 88L595 113M530 88L521 135M595 113L521 135M506 103L521 135M484 113L521 135M455 77L445 127M419 98L445 127M484 113L445 127M406 131L445 127M595 113L576 130M521 135L576 130M576 130L622 143M595 113L622 143M445 127L404 151M445 127L494 162M484 113L494 162M521 135L494 162M445 127L443 187M404 151L443 187M443 187L408 204M494 162L443 187M494 162L471 194M443 187L471 194M494 162L547 190M494 162L495 215M471 194L495 215M521 135L567 175M521 135L547 190M576 130L567 175M567 175L547 190M567 175L622 143M567 175L622 186M567 175L576 227M547 190L576 227M576 227L622 186M547 190L495 215M547 190L519 252M547 190L538 248M495 215L519 252M495 215L497 244M497 244L519 252M519 252L538 248M576 227L538 248M538 248L579 229M538 248L536 273M519 252L536 273M497 244L536 273M497 244L493 273M443 187L433 238M471 194L433 238M495 215L433 238M408 204L433 238M408 204L413 233M413 233L433 238M413 233L449 273M433 238L449 273M433 238L497 244M433 238L458 269M497 244L458 269M458 269L493 273M458 269L449 273"/>
</g>
<g id="mesh-nodes-red" fill="#ff0000" stroke="#000" stroke-width="1"><use href="#pr"/></g>
<g id="mesh-nodes-hollow" fill="#fff" stroke="#000" stroke-width="1"><use href="#ph"/></g>
<use href="#sh" class="out"/>
<g id="mesh-boundary" fill="#ff0000" stroke="#000" stroke-width="1"><use href="#pb"/></g>
</g>
</svg>
